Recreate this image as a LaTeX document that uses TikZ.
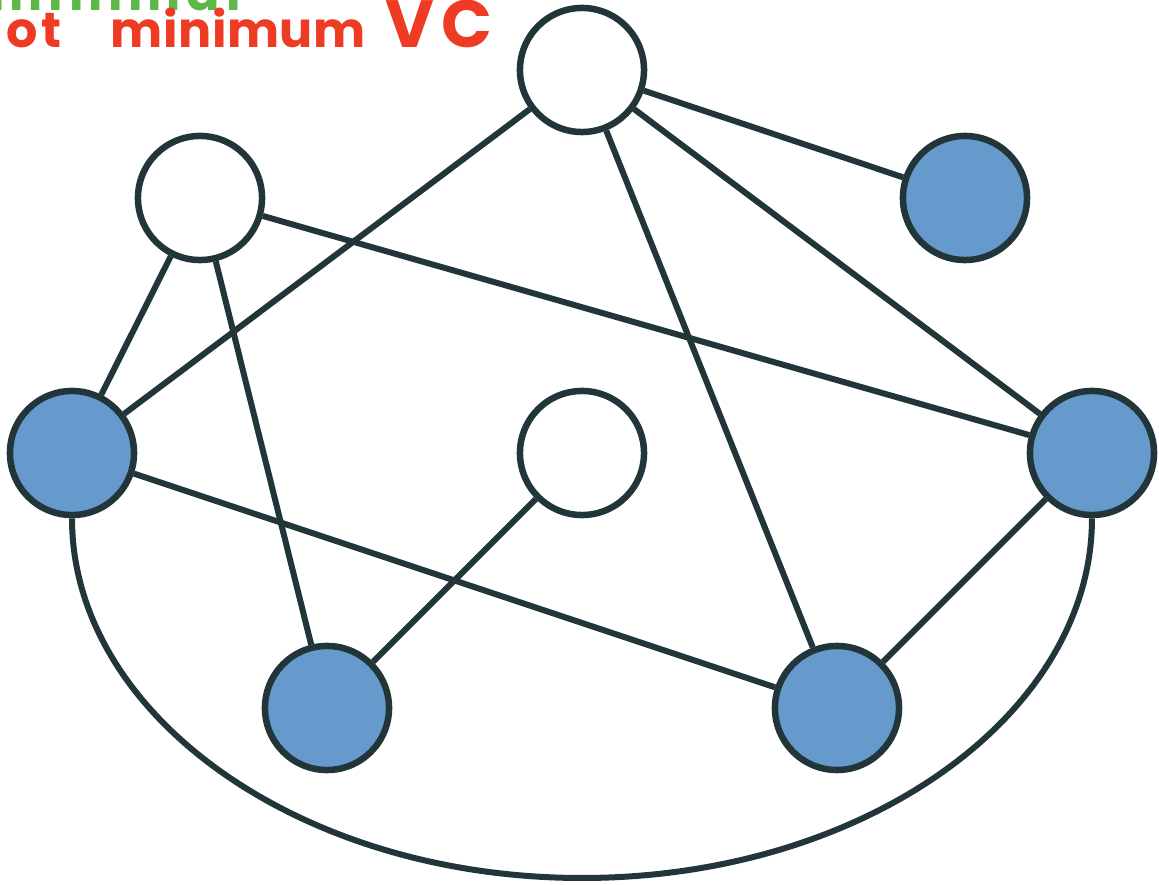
\documentclass[tikz,border=0pt]{standalone}
\usepackage{fontspec}
\setmainfont{Poppins}
\usetikzlibrary{backgrounds}
\definecolor{edgec}{HTML}{22363A}
\definecolor{vblue}{HTML}{6699CC}
\definecolor{hred}{HTML}{EE3B24}
\definecolor{hgreen}{HTML}{5DB848}
\begin{document}
\begin{tikzpicture}[x=0.01cm,y=-0.01cm,
  vtx/.style={circle,draw=edgec,line width=0.065cm,minimum size=1.24cm,inner sep=0pt},
  inset/.style={vtx,fill=vblue},
  outset/.style={vtx,fill=white},
  edge/.style={draw=edgec,line width=0.06cm},
  note/.style={inner sep=0pt,font=\bfseries}]
\useasboundingbox (0,0) rectangle (1159,885);
\clip (0,0) rectangle (1159,885);
\node[outset] (top) at (582,70) {};
\node[outset] (tl) at (200,198) {};
\node[inset] (tr) at (965,198) {};
\node[inset] (l) at (72,453) {};
\node[outset] (c) at (582,453) {};
\node[inset] (r) at (1092,453) {};
\node[inset] (bl) at (327,708) {};
\node[inset] (br) at (837,708) {};
\begin{pgfonlayer}{background}
\draw[edge] (top) -- (l);
\draw[edge] (top) -- (tr);
\draw[edge] (top) -- (br);
\draw[edge] (top) -- (r);
\draw[edge] (tl) -- (r);
\draw[edge] (tl) -- (l);
\draw[edge] (tl) -- (bl);
\draw[edge] (l) -- (br);
\draw[edge] (c) -- (bl);
\draw[edge] (r) -- (br);
\draw[edge] (l.south) .. controls (72,715) and (300,878) .. (582,878)
  .. controls (864,878) and (1092,715) .. (r.south);
\end{pgfonlayer}
\node[note,anchor=base west,text=hgreen,font=\bfseries\fontsize{14}{14}\selectfont\addfontfeature{LetterSpace=12}] (g) at (-10,11) {minimal};
\node[note,anchor=base east,text=hred,font=\bfseries\fontsize{14}{14}\selectfont\addfontfeature{LetterSpace=8}] (t1) at (62,48) {not};
\node[note,anchor=base west,text=hred,font=\bfseries\fontsize{14}{14}\selectfont\addfontfeature{LetterSpace=1}] (t2) at (110,48) {minimum};
\node[note,anchor=base west,text=hred,font=\bfseries\fontsize{19}{19}\selectfont\addfontfeature{LetterSpace=10}] (t3) at (385,48) {VC};
\end{tikzpicture}
\end{document}
